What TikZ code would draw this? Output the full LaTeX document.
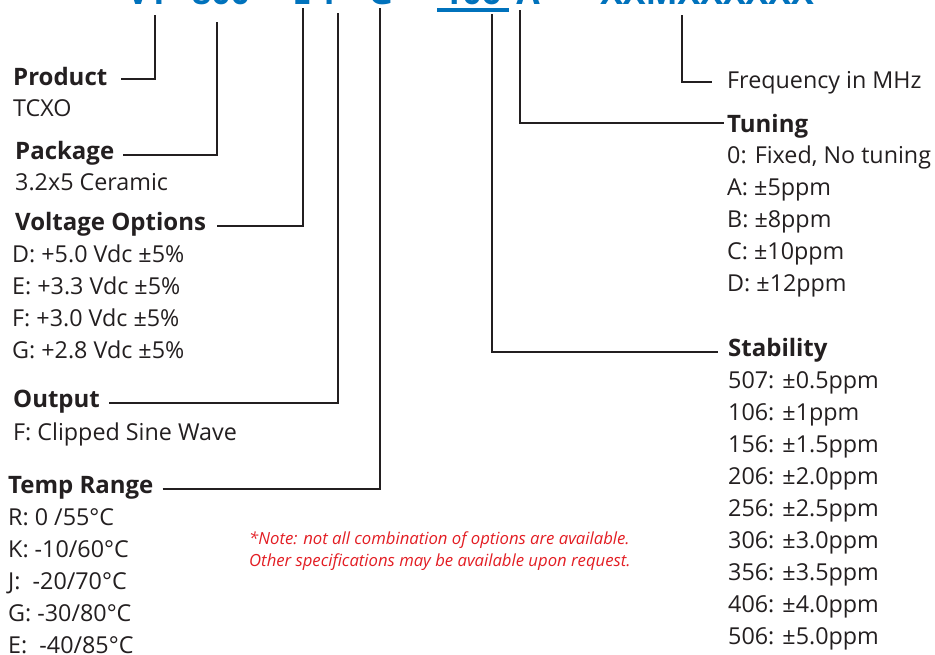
\documentclass[tikz,border=0pt]{standalone}
\usepackage{fontspec}
\setmainfont{Open Sans}
\definecolor{ink}{HTML}{231F20}
\definecolor{pnblue}{HTML}{0072BC}
\definecolor{notered}{HTML}{E31E24}
\begin{document}
\begin{tikzpicture}[x=1pt,y=-1pt,
  txt/.style={font=\fontsize{23.3}{28}\selectfont, text=ink, anchor=base west, inner sep=0pt},
  hd/.style={font=\fontsize{24}{28}\selectfont\bfseries, text=ink, anchor=base west, inner sep=0pt},
  lead/.style={draw=ink, line width=2.4pt},
  pn/.style={font=\fontsize{34}{40}\selectfont\bfseries, text=pnblue, anchor=base, inner sep=0pt},
  note/.style={font=\fontsize{16.7}{20}\selectfont\itshape, text=notered, anchor=base west, inner sep=0pt}]
\useasboundingbox (0,0) rectangle (935,654);
\clip (0,0) rectangle (935,654);
\fill[white] (0,0) rectangle (935,654);

% part number (clipped at top, as in the reference)
\node[pn] (vt) at (148,4) {VT};
\node[pn] (p800) at (221,4) {800};
\node[pn] (pE) at (302,4) {E};
\node[pn] (pF) at (333,4) {F};
\node[pn] (pG) at (381,4) {G};
\node[pn] (p106) at (472,4) {106};
\node[pn] (pA) at (528,4) {A};
\node[pn] (pX) at (707,4) {XXMXXXXXX};
\draw[pnblue, line width=3.5pt] ([xshift=-35pt,yshift=-6pt]p106.base) -- ([xshift=37pt,yshift=-6pt]p106.base);

% top ends of leaders
\coordinate (prodT) at (155,15);
\coordinate (packT) at (217,22);
\coordinate (voltT) at (303,8);
\coordinate (outT) at (338,13);
\coordinate (tempT) at (380,8);
\coordinate (freqT) at (682,15);
\coordinate (tunT) at (520,10);
\coordinate (stabT) at (492,14);

% left column
\node[hd] (prodH) at (13,85) {Product};
\node[txt] (prodV) at (13,116) {TCXO};
\node[hd] (packH) at (15,159) {Package};
\node[txt] (packV) at (15,190) {3.2x5 Ceramic};
\node[hd] (voltH) at (15,230) {Voltage Options};
\node[txt] (voltD) at (12,262) {D: +5.0 Vdc ±5\%};
\node[txt] (voltE) at (12,294) {E: +3.3 Vdc ±5\%};
\node[txt] (voltF) at (12,326) {F: +3.0 Vdc ±5\%};
\node[txt] (voltG) at (12,358) {G: +2.8 Vdc ±5\%};
\node[hd] (outH) at (13,407) {Output};
\node[txt] (outF) at (13,440) {F: Clipped Sine Wave};
\node[hd] (tempH) at (8,493) {Temp Range};
\node[txt] (tempR) at (8,525) {R: 0 /55°C};
\node[txt] (tempK) at (8,557) {K: -10/60°C};
\node[txt] (tempJ) at (8,589) {J:\ \ -20/70°C};
\node[txt] (tempG) at (8,621) {G: -30/80°C};
\node[txt] (tempE) at (8,653) {E:\ \ -40/85°C};

% right column
\node[txt] (freqH) at (727,88) {Frequency in MHz};
\node[hd] (tunH) at (727,132) {Tuning};
\node[txt] (tun0) at (727,163) {0: Fixed, No tuning};
\node[txt] (tunA) at (727,195) {A: ±5ppm};
\node[txt] (tunB) at (727,227) {B: ±8ppm};
\node[txt] (tunC) at (727,259) {C: ±10ppm};
\node[txt] (tunD) at (727,291) {D: ±12ppm};
\node[hd] (stabH) at (728,356) {Stability};
\foreach \c/\v [count=\i from 0] in {507/0.5,106/1,156/1.5,206/2.0,256/2.5,306/3.0,356/3.5,406/4.0,506/5.0}
  \node[txt] (stab\c) at (728,{388+32*\i}) {\c: ±\v ppm};

% note
\node[note] (note1) at (249,544) {*Note: not all combination of options are available.};
\node[note] (note2) at (249,566) {Other specifications may be available upon request.};

% leaders
\draw[lead] (prodH.base east) ++(14,-6) -| (prodT);
\draw[lead] (packH.base east) ++(9,-4) -| (packT);
\draw[lead] (voltH.base east) ++(11,-4) -| (voltT);
\draw[lead] (outH.base east) ++(9,-4) -| (outT);
\draw[lead] (tempH.base east) ++(9,-4) -| (tempT);
\draw[lead] (freqT) |- ([xshift=-15pt,yshift=6pt]freqH.base west);
\draw[lead] (tunT) |- ([xshift=-3pt,yshift=9pt]tunH.base west);
\draw[lead] (stabT) |- ([xshift=-10pt,yshift=4pt]stabH.base west);
\end{tikzpicture}
\end{document}
